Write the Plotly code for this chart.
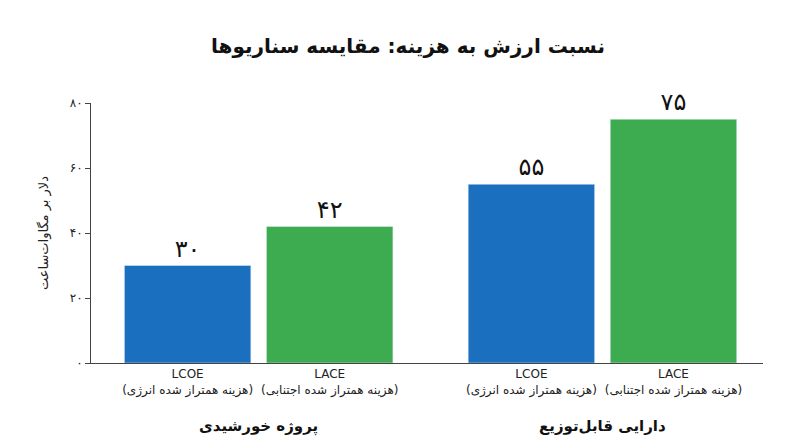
import plotly.graph_objects as go

groups = ["پروژه خورشیدی", "دارایی قابل‌توزیع"]
metrics = ["LCOE<br>(هزینه همتراز شده انرژی)", "LACE<br>(هزینه همتراز شده اجتنابی)"]
lcoe = [30, 55]
lace = [42, 75]
colors = ["#1a6fbf", "#3dab4f"]
ytick_vals = [0, 20, 40, 60, 80]
ytick_text = ["۰", "۲۰", "۴۰", "۶۰", "۸۰"]

def fa(n):
    return str(n).translate(str.maketrans("0123456789", "۰۱۲۳۴۵۶۷۸۹"))

xpos = [0, 1, 2.42, 3.42]
vals = [lcoe[0], lace[0], lcoe[1], lace[1]]
cols = [colors[0], colors[1], colors[0], colors[1]]
font = "DejaVu Sans"

fig = go.Figure(go.Bar(
    x=xpos, y=vals, marker_color=cols, width=0.89,
    text=[fa(v) for v in vals], textposition="outside",
    textfont=dict(size=24, color="#111", family=font), cliponaxis=False))

fig.update_layout(
    width=800, height=447, plot_bgcolor="white", paper_bgcolor="white",
    margin=dict(l=83, r=45, t=95, b=92), showlegend=False,
    font=dict(family=font, color="#222"),
    title=dict(text="<b>نسبت ارزش به هزینه: مقایسه سناریوها</b>", x=0.5, y=0.93,
               xanchor="center", font=dict(size=20, color="#111")),
    xaxis=dict(range=[-0.68, 4.05], tickvals=xpos, ticktext=metrics * 2,
               tickfont=dict(size=12, color="#222"), showline=True, linecolor="#444",
               ticks="", showgrid=False, zeroline=False),
    yaxis=dict(range=[0, 80], tickvals=ytick_vals, ticktext=ytick_text,
               showline=True, linecolor="#444", ticks="outside", ticklen=5,
               tickcolor="#444", showgrid=False, zeroline=False,
               tickfont=dict(size=12),
               title=dict(text="دلار بر مگاوات‌ساعت", font=dict(size=13), standoff=18)),
)
for g, xc in zip(groups, [0.5, 2.92]):
    fig.add_annotation(x=xc, y=-0.2, xref="x", yref="paper", text="<b>" + g + "</b>",
                       showarrow=False, yanchor="top", font=dict(size=15, color="#111"))
fig.write_html("out.html")
